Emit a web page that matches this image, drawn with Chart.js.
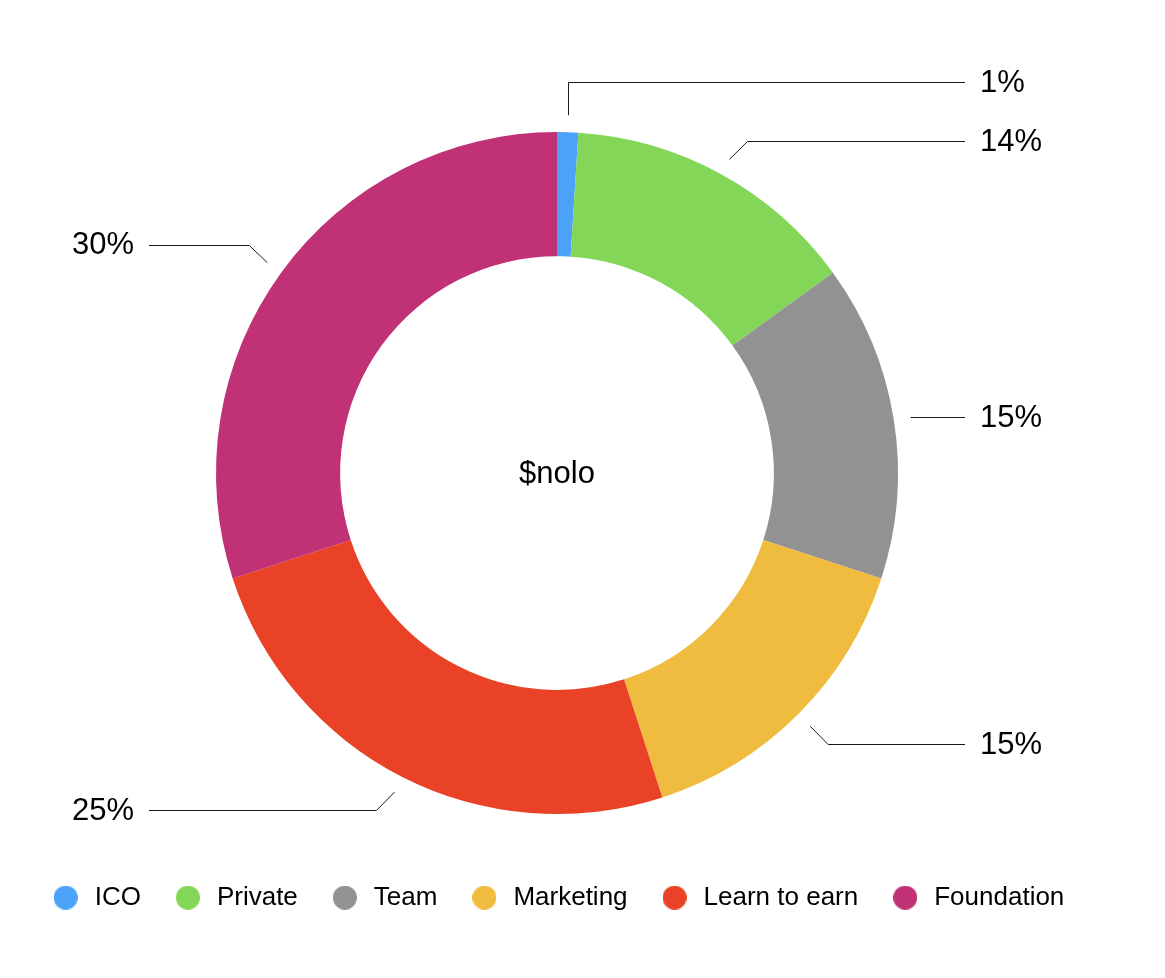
<!DOCTYPE html>
<html>
<head>
<meta charset="utf-8">
<script src="https://cdn.jsdelivr.net/npm/chart.js@4.4.1/dist/chart.umd.min.js"></script>
<style>
  html, body { margin: 0; padding: 0; background: #ffffff; }
  #wrap { width: 1165px; height: 978px; position: relative; }
</style>
</head>
<body>
<div id="wrap"><canvas id="c" width="1165" height="978"></canvas></div>
<script>
const categories = ['ICO', 'Private', 'Team', 'Marketing', 'Learn to earn', 'Foundation'];
const shares = [1, 14, 15, 15, 25, 30];
const sliceColors = ['#4aa3f8', '#84d659', '#929292', '#efbc40', '#e94226', '#c13176'];
const centerTitle = '$nolo';

const FONT = "'Liberation Sans', Helvetica, Arial, sans-serif";

function makeDot(color) {
  const c = document.createElement('canvas');
  c.width = 24; c.height = 24;
  const g = c.getContext('2d');
  g.fillStyle = color;
  g.beginPath();
  g.arc(12, 12, 12, 0, Math.PI * 2);
  g.fill();
  return c;
}
const dots = sliceColors.map(makeDot);

const leaderPlugin = {
  id: 'leaders',
  afterDraw(chart) {
    const ctx = chart.ctx;
    const meta = chart.getDatasetMeta(0);
    const items = [];
    meta.data.forEach((arc, i) => {
      const p = arc.getProps(['x', 'y', 'startAngle', 'endAngle', 'outerRadius'], true);
      const mid = (p.startAngle + p.endAngle) / 2;
      const r0 = p.outerRadius + 17;
      const cs = Math.cos(mid), sn = Math.sin(mid);
      const sx = p.x + r0 * cs, sy = p.y + r0 * sn;
      const right = cs >= 0;
      let type, ex, ey;
      if (Math.abs(sn) < Math.sin(15 * Math.PI / 180)) {
        type = 'h'; ex = sx; ey = sy;
      } else if (Math.abs(cs) < Math.sin(10 * Math.PI / 180)) {
        type = 'v'; ex = sx; ey = sy + Math.sign(sn) * 18;
      } else {
        type = 'd'; ex = sx + Math.sign(cs) * 18; ey = sy + Math.sign(sn) * 18;
      }
      items.push({ i, cx: p.x, cy: p.y, sx, sy, ex, ey, right, type,
        text: shares[i] + '%' });
    });
    [true, false].forEach(side => {
      const list = items.filter(it => it.right === side).sort((a, b) => a.ey - b.ey);
      const gap = 59;
      for (let k = list.length - 2; k >= 0; k--) {
        if (list[k + 1].ey - list[k].ey < gap) {
          const target = list[k + 1].ey - gap;
          if (list[k].type === 'v' || list[k].type === 'd') list[k].ey = target;
        }
      }
    });
    ctx.save();
    ctx.strokeStyle = '#1a1a1a';
    ctx.lineWidth = 1;
    ctx.fillStyle = '#000000';
    ctx.font = '31px ' + FONT;
    ctx.textBaseline = 'middle';
    items.forEach(it => {
      const endX = it.right ? it.cx + 408 : it.cx - 408;
      ctx.beginPath();
      if (it.type === 'v') {
        ctx.moveTo(Math.round(it.sx) + 0.5, it.sy);
        ctx.lineTo(Math.round(it.sx) + 0.5, Math.round(it.ey) + 0.5);
        ctx.lineTo(endX, Math.round(it.ey) + 0.5);
      } else if (it.type === 'h') {
        ctx.moveTo(it.sx, Math.round(it.ey) + 0.5);
        ctx.lineTo(endX, Math.round(it.ey) + 0.5);
      } else {
        ctx.moveTo(it.sx, it.sy);
        ctx.lineTo(it.ex, Math.round(it.ey) + 0.5);
        ctx.lineTo(endX, Math.round(it.ey) + 0.5);
      }
      ctx.stroke();
      ctx.textAlign = it.right ? 'left' : 'right';
      ctx.fillText(it.text, it.right ? it.cx + 423 : it.cx - 423, it.ey + 1);
    });
    const a0 = meta.data[0];
    ctx.textAlign = 'center';
    ctx.fillText(centerTitle, a0.x, a0.y + 1);
    ctx.restore();
  }
};

new Chart(document.getElementById('c'), {
  type: 'doughnut',
  data: {
    labels: categories,
    datasets: [{
      data: shares,
      backgroundColor: sliceColors,
      borderWidth: 0,
      radius: 341,
      cutout: '63.6%'
    }]
  },
  options: {
    responsive: false,
    animation: false,
    events: [],
    layout: { padding: { left: 0, right: 51, top: 92.6, bottom: 57.4 } },
    plugins: {
      tooltip: { enabled: false },
      legend: {
        position: 'bottom',
        labels: {
          usePointStyle: true,
          pointStyleWidth: 32,
          padding: 31,
          color: '#000000',
          font: { size: 26, family: FONT },
          generateLabels(chart) {
            const base = Chart.overrides.doughnut.plugins.legend.labels.generateLabels(chart);
            return base.map((it, i) => Object.assign(it, { pointStyle: dots[i] }));
          }
        }
      }
    }
  },
  plugins: [leaderPlugin]
});
</script>
</body>
</html>
